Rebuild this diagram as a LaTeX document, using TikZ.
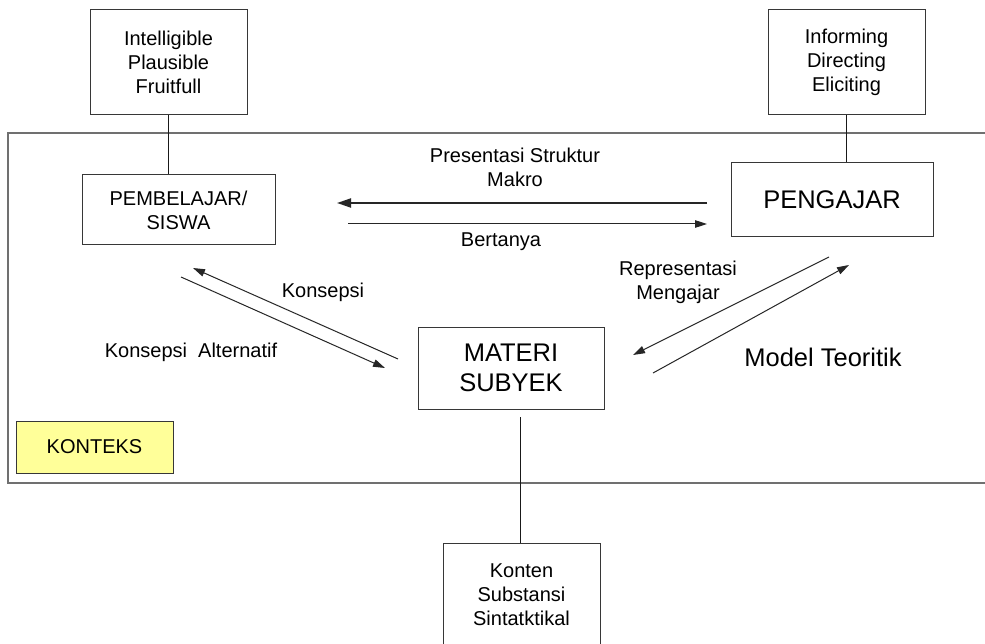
\documentclass[tikz,border=0pt]{standalone}
\usepackage{fontspec}
\setmainfont{Liberation Sans}
\usetikzlibrary{arrows.meta}
\definecolor{framegray}{RGB}{112,112,112}
\definecolor{boxline}{RGB}{55,55,55}
\definecolor{notefill}{RGB}{255,255,153}
\begin{document}
\begin{tikzpicture}[x=1pt,y=-1pt,
  box/.style={draw=boxline, line width=1pt, fill=white, align=center, inner sep=0pt},
  small/.style={font=\fontsize{20}{24}\selectfont},
  big/.style={font=\fontsize{25.5}{30}\selectfont},
  link/.style={draw=black!90, line width=1pt},
  flow/.style={draw=black!85, line width=1pt, -{Triangle[length=12pt,width=7.5pt]}},
  mainflow/.style={draw=black!85, line width=2pt, -{Triangle[length=14pt,width=9pt]}},
  lbl/.style={small, align=center, inner sep=0pt}]
\useasboundingbox (0,0) rectangle (985,644);
\fill[white] (0,0) rectangle (985,644);

% context frame (runs off the right edge)
\draw[framegray, line width=2pt] (8,133) rectangle (1010,483);

% boxes
\node[box, small, minimum width=157pt, minimum height=105pt] (crit) at (168.5,62.5)
  {Intelligible\\Plausible\\Fruitfull};
\node[box, small, minimum width=157pt, minimum height=105pt] (moves) at (846.5,62.5)
  {Informing\\Directing\\Eliciting};
\node[box, small, minimum width=193pt, minimum height=70pt] (siswa) at (178.5,210)
  {PEMBELAJAR/\\SISWA};
\node[box, big, minimum width=202pt, minimum height=74pt] (guru) at (832,200)
  {PENGAJAR};
\node[box, big, minimum width=186pt, minimum height=82pt] (materi) at (511,368)
  {MATERI\\SUBYEK};
\node[box, small, minimum width=157pt, minimum height=104pt] (konten) at (521.5,595)
  {Konten\\Substansi\\Sintatktikal};
\node[box, small, fill=notefill, minimum width=157pt, minimum height=52pt] (konteks) at (94.5,447)
  {KONTEKS};

% vertical links
\draw[link] (crit.south) -- (crit.south |- siswa.north);
\draw[link] (moves.south) -- (moves.south |- guru.north);
\coordinate (matlow) at (520,417);
\draw[link] (matlow) -- (matlow |- konten.north);

% arrow end points
\coordinate (pm1) at (707,203);  \coordinate (pm2) at (337,203);
\coordinate (bt1) at (348,224);  \coordinate (bt2) at (707,224);
\coordinate (ks1) at (398,359);  \coordinate (ks2) at (193,268);
\coordinate (ka1) at (181,277);  \coordinate (ka2) at (385,368);
\coordinate (rm1) at (829,257);  \coordinate (rm2) at (633,355);
\coordinate (mt1) at (653,373);  \coordinate (mt2) at (849,265);

\draw[mainflow] (pm1) -- (pm2);
\draw[flow] (bt1) -- (bt2);
\draw[flow] (ks1) -- (ks2);
\draw[flow] (ka1) -- (ka2);
\draw[flow] (rm1) -- (rm2);
\draw[flow] (mt1) -- (mt2);

% labels
\node[lbl] (lpm) at (515,167.5) {Presentasi Struktur\\Makro};
\node[lbl] (lbt) at (501,242) {Bertanya};
\node[lbl] (lks) at (323,292) {Konsepsi};
\node[lbl] (lka) at (191,352) {Konsepsi\ \ Alternatif};
\node[lbl] (lrm) at (678,282) {Representasi\\Mengajar};
\node[big, inner sep=0pt] (lmt) at (823,357) {Model Teoritik};
\end{tikzpicture}
\end{document}
